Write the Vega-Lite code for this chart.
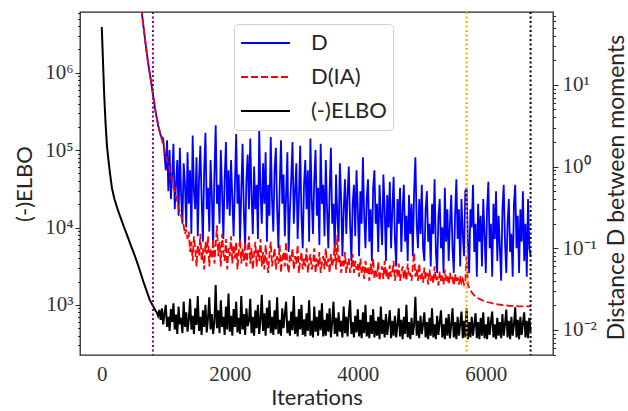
{
  "$schema": "https://vega.github.io/schema/vega-lite/v6.json",
  "width": 473,
  "height": 343,
  "autosize": "none",
  "padding": {"left": 80, "top": 12, "right": 75, "bottom": 56},
  "background": "white",
  "config": {
    "view": {"stroke": "#262626", "strokeWidth": 1.3},
    "axis": {"grid": false, "domain": false, "labelColor": "#333333", "titleColor": "#262626", "tickColor": "#262626", "titleFontWeight": "normal"}
  },
  "data": {"values": [
    {"it":0,"ELBO":3900000},{"it":10,"ELBO":2300000},{"it":20,"ELBO":1350000},{"it":30,"ELBO":790000},{"it":40,"ELBO":475000},
    {"it":60,"ELBO":220000},{"it":80,"ELBO":117000},{"it":100,"ELBO":80000},{"it":130,"ELBO":49000},{"it":160,"ELBO":32000},
    {"it":200,"ELBO":23000},{"it":250,"ELBO":17000},{"it":300,"ELBO":13000},{"it":350,"ELBO":10000},{"it":400,"ELBO":7800},
    {"it":450,"ELBO":6000},{"it":500,"ELBO":4700},{"it":550,"ELBO":3600},{"it":560,"D":200,"DIA":200},
    {"it":600,"ELBO":2700,"D":110,"DIA":110},{"it":640,"D":62,"DIA":62},{"it":650,"ELBO":2000},{"it":680,"D":34,"DIA":34},
    {"it":700,"ELBO":1520},{"it":720,"D":19.5,"DIA":19.5},{"it":750,"ELBO":1160},{"it":760,"D":12.3,"DIA":12.3},
    {"it":800,"ELBO":970,"D":7.6,"DIA":7.6},{"it":840,"ELBO":840,"D":4.7,"DIA":4.8},{"it":860,"ELBO":800},
    {"it":880,"ELBO":720,"D":3.2,"DIA":3.3},{"it":900,"ELBO":860},{"it":920,"ELBO":640,"D":2.4,"DIA":2.4},{"it":940,"ELBO":900},
    {"it":960,"ELBO":560,"D":2.2,"DIA":1.85},{"it":980,"ELBO":780,"D":1.4,"DIA":1.6},{"it":1000,"ELBO":1000,"D":0.9,"DIA":1.4},
    {"it":1020,"ELBO":520,"D":2.1,"DIA":1.2},{"it":1040,"ELBO":700,"D":0.5,"DIA":1.09},{"it":1060,"ELBO":460,"D":1.6,"DIA":0.92},
    {"it":1080,"ELBO":880,"D":0.4,"DIA":0.79},{"it":1100,"ELBO":600,"D":0.8,"DIA":0.67},{"it":1120,"ELBO":1050,"D":1.9,"DIA":0.57},
    {"it":1140,"ELBO":480,"D":0.3,"DIA":0.5},{"it":1160,"ELBO":750,"D":0.6,"DIA":0.43},{"it":1180,"ELBO":420,"D":1.2,"DIA":0.37},
    {"it":1200,"ELBO":950,"D":0.25,"DIA":0.32},{"it":1220,"ELBO":560,"D":1.7,"DIA":0.28},{"it":1240,"ELBO":680,"D":0.45,"DIA":0.25},
    {"it":1260,"ELBO":430,"D":0.2,"DIA":0.22},{"it":1280,"ELBO":1100,"D":1.1,"DIA":0.19},{"it":1300,"ELBO":520,"D":0.6,"DIA":0.15},
    {"it":1320,"ELBO":800,"D":0.18,"DIA":0.17},{"it":1340,"ELBO":450,"D":1.5,"DIA":0.13},{"it":1360,"ELBO":650,"D":0.35,"DIA":0.16},
    {"it":1380,"ELBO":1200,"D":0.9,"DIA":0.09},{"it":1400,"ELBO":480,"D":0.15,"DIA":0.12},{"it":1420,"ELBO":720,"D":2.4,"DIA":0.07},
    {"it":1440,"ELBO":420,"D":0.5,"DIA":0.14},{"it":1460,"ELBO":900,"D":0.3,"DIA":0.1},{"it":1480,"ELBO":550,"D":1.3,"DIA":0.06},
    {"it":1500,"ELBO":1300,"D":0.14,"DIA":0.11},{"it":1520,"ELBO":460,"D":0.7,"DIA":0.08},{"it":1540,"ELBO":700,"D":1.8,"DIA":0.15},
    {"it":1560,"ELBO":410,"D":0.4,"DIA":0.07},{"it":1580,"ELBO":850,"D":0.12,"DIA":0.1},{"it":1600,"ELBO":520,"D":0.9,"DIA":0.055},
    {"it":1620,"ELBO":1000,"D":2.6,"DIA":0.12},{"it":1640,"ELBO":440,"D":0.3,"DIA":0.085},{"it":1660,"ELBO":680,"D":0.55,"DIA":0.14},
    {"it":1680,"ELBO":1250,"D":0.16,"DIA":0.06},{"it":1700,"ELBO":480,"D":1.2,"DIA":0.1},{"it":1720,"ELBO":760,"D":0.45,"DIA":0.075},
    {"it":1740,"ELBO":420,"D":0.1,"DIA":0.13},{"it":1760,"ELBO":600,"D":0.8,"DIA":0.065},{"it":1780,"ELBO":1800,"D":3.2,"DIA":0.11},
    {"it":1800,"ELBO":500,"D":0.35,"DIA":0.19},{"it":1820,"ELBO":850,"D":0.6,"DIA":0.08},{"it":1840,"ELBO":430,"D":0.2,"DIA":0.12},
    {"it":1860,"ELBO":1150,"D":1.6,"DIA":0.06},{"it":1880,"ELBO":520,"D":0.5,"DIA":0.15},{"it":1900,"ELBO":700,"D":0.13,"DIA":0.09},
    {"it":1920,"ELBO":410,"D":0.7,"DIA":0.07},{"it":1940,"ELBO":950,"D":2.0,"DIA":0.13},{"it":1960,"ELBO":480,"D":0.3,"DIA":0.055},
    {"it":1980,"ELBO":1400,"D":0.9,"DIA":0.1},{"it":2000,"ELBO":450,"D":0.25,"DIA":0.08},{"it":2020,"ELBO":720,"D":1.2,"DIA":0.14},
    {"it":2040,"ELBO":400,"D":0.4,"DIA":0.065},{"it":2060,"ELBO":880,"D":0.14,"DIA":0.11},{"it":2080,"ELBO":520,"D":0.6,"DIA":0.075},
    {"it":2100,"ELBO":1100,"D":2.5,"DIA":0.12},{"it":2120,"ELBO":440,"D":0.35,"DIA":0.055},{"it":2140,"ELBO":680,"D":0.8,"DIA":0.09},
    {"it":2160,"ELBO":420,"D":0.12,"DIA":0.13},{"it":2180,"ELBO":1300,"D":0.5,"DIA":0.065},{"it":2200,"ELBO":480,"D":1.9,"DIA":0.1},
    {"it":2220,"ELBO":760,"D":0.28,"DIA":0.07},{"it":2240,"ELBO":410,"D":0.1,"DIA":0.12},{"it":2260,"ELBO":900,"D":0.7,"DIA":0.06},
    {"it":2280,"ELBO":530,"D":1.4,"DIA":0.09},{"it":2300,"ELBO":620,"D":0.3,"DIA":0.14},{"it":2320,"ELBO":1200,"D":2.2,"DIA":0.065},
    {"it":2340,"ELBO":430,"D":0.45,"DIA":0.1},{"it":2360,"ELBO":700,"D":0.15,"DIA":0.055},{"it":2380,"ELBO":400,"D":1.0,"DIA":0.085},
    {"it":2400,"ELBO":850,"D":0.3,"DIA":0.12},{"it":2420,"ELBO":500,"D":0.6,"DIA":0.06},{"it":2440,"ELBO":1000,"D":0.13,"DIA":0.1},
    {"it":2460,"ELBO":420,"D":2.8,"DIA":0.07},{"it":2480,"ELBO":640,"D":0.5,"DIA":0.13},{"it":2500,"ELBO":1350,"D":0.2,"DIA":0.06},
    {"it":2520,"ELBO":460,"D":1.1,"DIA":0.09},{"it":2540,"ELBO":780,"D":0.35,"DIA":0.055},{"it":2560,"ELBO":400,"D":1.5,"DIA":0.11},
    {"it":2580,"ELBO":920,"D":0.12,"DIA":0.07},{"it":2600,"ELBO":500,"D":0.6,"DIA":0.05},{"it":2620,"ELBO":1150,"D":0.25,"DIA":0.085},
    {"it":2640,"ELBO":430,"D":2.3,"DIA":0.12},{"it":2660,"ELBO":700,"D":0.4,"DIA":0.06},{"it":2680,"ELBO":410,"D":0.16,"DIA":0.075},
    {"it":2700,"ELBO":850,"D":0.9,"DIA":0.1},{"it":2720,"ELBO":480,"D":1.7,"DIA":0.055},{"it":2740,"ELBO":1250,"D":0.3,"DIA":0.08},
    {"it":2760,"ELBO":420,"D":0.1,"DIA":0.065},{"it":2780,"ELBO":640,"D":0.55,"DIA":0.11},{"it":2800,"ELBO":400,"D":2.1,"DIA":0.05},
    {"it":2820,"ELBO":900,"D":0.35,"DIA":0.075},{"it":2840,"ELBO":500,"D":0.8,"DIA":0.09},{"it":2860,"ELBO":760,"D":0.14,"DIA":0.06},
    {"it":2880,"ELBO":1100,"D":0.45,"DIA":0.12},{"it":2900,"ELBO":430,"D":1.5,"DIA":0.065},{"it":2920,"ELBO":620,"D":0.09,"DIA":0.05},
    {"it":2940,"ELBO":400,"D":0.3,"DIA":0.085},{"it":2960,"ELBO":820,"D":0.7,"DIA":0.07},{"it":2980,"ELBO":470,"D":2.0,"DIA":0.1},
    {"it":3000,"ELBO":1300,"D":0.2,"DIA":0.055},{"it":3020,"ELBO":420,"D":0.5,"DIA":0.08},{"it":3040,"ELBO":700,"D":1.1,"DIA":0.065},
    {"it":3060,"ELBO":390,"D":0.13,"DIA":0.11},{"it":3080,"ELBO":880,"D":0.4,"DIA":0.05},{"it":3100,"ELBO":480,"D":1.8,"DIA":0.07},
    {"it":3120,"ELBO":1000,"D":0.25,"DIA":0.09},{"it":3140,"ELBO":410,"D":0.1,"DIA":0.055},{"it":3160,"ELBO":650,"D":0.6,"DIA":0.075},
    {"it":3180,"ELBO":390,"D":1.2,"DIA":0.06},{"it":3200,"ELBO":780,"D":0.3,"DIA":0.1},{"it":3220,"ELBO":460,"D":0.9,"DIA":0.05},
    {"it":3240,"ELBO":1150,"D":0.12,"DIA":0.07},{"it":3260,"ELBO":400,"D":2.2,"DIA":0.085},{"it":3280,"ELBO":620,"D":0.4,"DIA":0.055},
    {"it":3300,"ELBO":380,"D":0.15,"DIA":0.065},{"it":3320,"ELBO":950,"D":0.7,"DIA":0.1},{"it":3340,"ELBO":450,"D":1.6,"DIA":0.05},
    {"it":3360,"ELBO":700,"D":0.25,"DIA":0.075},{"it":3380,"ELBO":400,"D":0.55,"DIA":0.06},{"it":3400,"ELBO":850,"D":0.11,"DIA":0.09},
    {"it":3420,"ELBO":470,"D":1.9,"DIA":0.05},{"it":3440,"ELBO":1050,"D":0.35,"DIA":0.065},{"it":3460,"ELBO":390,"D":0.6,"DIA":0.08},
    {"it":3480,"ELBO":640,"D":0.14,"DIA":0.055},{"it":3500,"ELBO":400,"D":1.2,"DIA":0.1},{"it":3520,"ELBO":780,"D":0.3,"DIA":0.06},
    {"it":3540,"ELBO":450,"D":0.1,"DIA":0.075},{"it":3560,"ELBO":900,"D":0.5,"DIA":0.05},{"it":3580,"ELBO":380,"D":1.7,"DIA":0.085},
    {"it":3600,"ELBO":600,"D":0.2,"DIA":0.06},{"it":3620,"ELBO":1100,"D":0.35,"DIA":0.07},{"it":3640,"ELBO":420,"D":0.09,"DIA":0.11},
    {"it":3660,"ELBO":680,"D":0.8,"DIA":0.055},{"it":3680,"ELBO":390,"D":0.25,"DIA":0.146},{"it":3700,"ELBO":800,"D":0.12,"DIA":0.065},
    {"it":3720,"ELBO":450,"D":1.1,"DIA":0.08},{"it":3740,"ELBO":620,"D":0.4,"DIA":0.05},{"it":3760,"ELBO":380,"D":0.08,"DIA":0.07},
    {"it":3780,"ELBO":950,"D":0.3,"DIA":0.06},{"it":3800,"ELBO":430,"D":0.7,"DIA":0.09},{"it":3820,"ELBO":700,"D":0.15,"DIA":0.05},
    {"it":3840,"ELBO":390,"D":0.45,"DIA":0.065},{"it":3860,"ELBO":760,"D":1.0,"DIA":0.075},{"it":3880,"ELBO":1150,"D":0.2,"DIA":0.05},
    {"it":3900,"ELBO":420,"D":0.07,"DIA":0.06},{"it":3920,"ELBO":600,"D":0.35,"DIA":0.085},{"it":3940,"ELBO":380,"D":0.6,"DIA":0.05},
    {"it":3960,"ELBO":720,"D":0.14,"DIA":0.07},{"it":3980,"ELBO":440,"D":0.9,"DIA":0.055},{"it":4000,"ELBO":880,"D":0.3,"DIA":0.065},
    {"it":4020,"ELBO":390,"D":0.08,"DIA":0.045},{"it":4040,"ELBO":640,"D":0.5,"DIA":0.075},{"it":4060,"ELBO":370,"D":0.2,"DIA":0.05},
    {"it":4080,"ELBO":800,"D":1.3,"DIA":0.06},{"it":4100,"ELBO":430,"D":0.25,"DIA":0.042},{"it":4120,"ELBO":1000,"D":0.1,"DIA":0.07},
    {"it":4140,"ELBO":390,"D":0.4,"DIA":0.05},{"it":4160,"ELBO":600,"D":0.7,"DIA":0.058},{"it":4180,"ELBO":370,"D":0.12,"DIA":0.04},
    {"it":4200,"ELBO":740,"D":0.3,"DIA":0.065},{"it":4220,"ELBO":420,"D":0.07,"DIA":0.048},{"it":4240,"ELBO":880,"D":0.55,"DIA":0.075},
    {"it":4260,"ELBO":380,"D":0.9,"DIA":0.042},{"it":4280,"ELBO":620,"D":0.2,"DIA":0.055},{"it":4300,"ELBO":400,"D":0.35,"DIA":0.045},
    {"it":4320,"ELBO":700,"D":0.09,"DIA":0.068},{"it":4340,"ELBO":360,"D":0.6,"DIA":0.04},{"it":4360,"ELBO":950,"D":0.25,"DIA":0.052},
    {"it":4380,"ELBO":420,"D":0.11,"DIA":0.06},{"it":4400,"ELBO":640,"D":0.8,"DIA":0.042},{"it":4420,"ELBO":380,"D":0.3,"DIA":0.07},
    {"it":4440,"ELBO":760,"D":0.07,"DIA":0.045},{"it":4460,"ELBO":410,"D":0.45,"DIA":0.055},{"it":4480,"ELBO":580,"D":0.18,"DIA":0.04},
    {"it":4500,"ELBO":850,"D":0.65,"DIA":0.062},{"it":4520,"ELBO":370,"D":0.1,"DIA":0.045},{"it":4540,"ELBO":620,"D":0.3,"DIA":0.05},
    {"it":4560,"ELBO":400,"D":0.75,"DIA":0.07},{"it":4580,"ELBO":720,"D":0.13,"DIA":0.04},{"it":4600,"ELBO":380,"D":0.06,"DIA":0.055},
    {"it":4620,"ELBO":560,"D":0.4,"DIA":0.045},{"it":4640,"ELBO":900,"D":0.2,"DIA":0.065},{"it":4660,"ELBO":390,"D":0.55,"DIA":0.04},
    {"it":4680,"ELBO":640,"D":0.09,"DIA":0.05},{"it":4700,"ELBO":360,"D":0.3,"DIA":0.06},{"it":4720,"ELBO":700,"D":0.6,"DIA":0.042},
    {"it":4740,"ELBO":420,"D":0.12,"DIA":0.055},{"it":4760,"ELBO":1000,"D":0.25,"DIA":0.04},{"it":4780,"ELBO":380,"D":0.07,"DIA":0.065},
    {"it":4800,"ELBO":600,"D":0.45,"DIA":0.045},{"it":4820,"ELBO":360,"D":0.15,"DIA":0.05},{"it":4840,"ELBO":680,"D":0.35,"DIA":0.04},
    {"it":4860,"ELBO":410,"D":0.08,"DIA":0.06},{"it":4880,"ELBO":560,"D":0.5,"DIA":0.088},{"it":4900,"ELBO":1270,"D":1.3,"DIA":0.045},
    {"it":4920,"ELBO":400,"D":0.2,"DIA":0.055},{"it":4940,"ELBO":620,"D":0.1,"DIA":0.04},{"it":4960,"ELBO":370,"D":0.4,"DIA":0.065},
    {"it":4980,"ELBO":720,"D":0.15,"DIA":0.042},{"it":5000,"ELBO":420,"D":0.6,"DIA":0.05},{"it":5020,"ELBO":560,"D":0.1,"DIA":0.038},
    {"it":5040,"ELBO":800,"D":0.07,"DIA":0.058},{"it":5060,"ELBO":380,"D":0.3,"DIA":0.042},{"it":5080,"ELBO":600,"D":0.5,"DIA":0.05},
    {"it":5100,"ELBO":360,"D":0.12,"DIA":0.036},{"it":5120,"ELBO":680,"D":0.2,"DIA":0.055},{"it":5140,"ELBO":400,"D":0.06,"DIA":0.04},
    {"it":5160,"ELBO":900,"D":0.35,"DIA":0.048},{"it":5180,"ELBO":380,"D":0.15,"DIA":0.037},{"it":5200,"ELBO":560,"D":0.7,"DIA":0.06},
    {"it":5220,"ELBO":360,"D":0.09,"DIA":0.04},{"it":5240,"ELBO":720,"D":0.05,"DIA":0.045},{"it":5260,"ELBO":410,"D":0.25,"DIA":0.035},
    {"it":5280,"ELBO":600,"D":0.4,"DIA":0.052},{"it":5300,"ELBO":850,"D":0.1,"DIA":0.04},{"it":5320,"ELBO":380,"D":0.18,"DIA":0.046},
    {"it":5340,"ELBO":560,"D":0.05,"DIA":0.036},{"it":5360,"ELBO":360,"D":0.55,"DIA":0.055},{"it":5380,"ELBO":680,"D":0.12,"DIA":0.04},
    {"it":5400,"ELBO":400,"D":0.3,"DIA":0.045},{"it":5420,"ELBO":760,"D":0.07,"DIA":0.036},{"it":5440,"ELBO":370,"D":0.2,"DIA":0.05},
    {"it":5460,"ELBO":560,"D":0.45,"DIA":0.04},{"it":5480,"ELBO":900,"D":0.1,"DIA":0.043},{"it":5500,"ELBO":380,"D":0.05,"DIA":0.035},
    {"it":5520,"ELBO":600,"D":0.25,"DIA":0.048},{"it":5540,"ELBO":360,"D":0.7,"DIA":0.038},{"it":5560,"ELBO":700,"D":0.13,"DIA":0.044},
    {"it":5580,"ELBO":400,"D":0.3,"DIA":0.036},{"it":5600,"ELBO":560,"D":0.06,"DIA":0.046},{"it":5620,"ELBO":820,"D":0.4,"DIA":0.038},
    {"it":5640,"ELBO":370,"D":0.15,"DIA":0.042},{"it":5660,"ELBO":620,"D":0.08,"DIA":0.036},{"it":5680,"ELBO":380,"D":0.5,"DIA":0.04},
    {"it":5700,"ELBO":900,"D":0.55,"DIA":0.08},{"it":5720,"ELBO":360,"D":0.12,"DIA":0.036},{"it":5740,"ELBO":600,"D":0.05,"DIA":0.033},
    {"it":5760,"ELBO":380,"D":0.3,"DIA":0.031},{"it":5780,"ELBO":700,"D":0.18,"DIA":0.029},{"it":5800,"ELBO":400,"D":0.6,"DIA":0.0275},
    {"it":5820,"ELBO":560,"D":0.09,"DIA":0.0265},{"it":5840,"ELBO":780,"D":0.2,"DIA":0.0255},{"it":5860,"ELBO":370,"D":0.045,"DIA":0.025},
    {"it":5880,"ELBO":600,"D":0.35,"DIA":0.0245},{"it":5900,"ELBO":360,"D":0.12,"DIA":0.024},{"it":5920,"ELBO":680,"D":0.25},
    {"it":5940,"ELBO":400,"D":0.06,"DIA":0.0232},{"it":5960,"ELBO":800,"D":0.4},{"it":5980,"ELBO":370,"D":0.15,"DIA":0.0226},
    {"it":6000,"ELBO":560,"D":0.05},{"it":6020,"ELBO":360,"D":0.3,"DIA":0.022},{"it":6040,"ELBO":700,"D":0.65},
    {"it":6060,"ELBO":410,"D":0.1},{"it":6080,"ELBO":600,"D":0.2,"DIA":0.0214},{"it":6100,"ELBO":820,"D":0.045},
    {"it":6120,"ELBO":380,"D":0.35},{"it":6140,"ELBO":560,"D":0.13,"DIA":0.0209},{"it":6160,"ELBO":360,"D":0.5},
    {"it":6180,"ELBO":680,"D":0.07},{"it":6200,"ELBO":400,"D":0.25,"DIA":0.0205},{"it":6220,"ELBO":600,"D":0.1},
    {"it":6240,"ELBO":370,"D":0.04},{"it":6260,"ELBO":760,"D":0.3},{"it":6280,"ELBO":400,"D":0.6,"DIA":0.0201},
    {"it":6300,"ELBO":560,"D":0.12},{"it":6320,"ELBO":870,"D":0.05},{"it":6340,"ELBO":380,"D":0.2},
    {"it":6360,"ELBO":620,"D":0.4,"DIA":0.0198},{"it":6380,"ELBO":360,"D":0.09},{"it":6400,"ELBO":700,"D":0.15},
    {"it":6420,"ELBO":400,"D":0.045},{"it":6440,"ELBO":560,"D":0.35,"DIA":0.0196},{"it":6460,"ELBO":930,"D":0.6},
    {"it":6480,"ELBO":380,"D":0.1},{"it":6500,"ELBO":640,"D":0.25},{"it":6520,"ELBO":360,"D":0.05,"DIA":0.0195},
    {"it":6540,"ELBO":700,"D":0.3},{"it":6560,"ELBO":410,"D":0.12},{"it":6580,"ELBO":580,"D":0.5},
    {"it":6600,"ELBO":800,"D":0.07,"DIA":0.0194},{"it":6620,"ELBO":380,"D":0.2},{"it":6640,"ELBO":620,"D":0.045},
    {"it":6660,"ELBO":370,"D":0.4},{"it":6680,"ELBO":680,"D":0.1},{"it":6700,"ELBO":450,"D":0.08,"DIA":0.0194}
  ]},
  "layer": [
    {
      "transform": [{"fold": ["D", "DIA"], "as": ["series", "val"]}, {"filter": "isValid(datum.val)"}],
      "mark": {"type": "line", "clip": true, "strokeWidth": 1.8},
      "encoding": {
        "x": {"field": "it", "type": "quantitative", "scale": {"domain": [-340, 7050], "nice": false, "zero": false},
              "axis": {"title": "Iterations", "values": [0, 2000, 4000, 6000], "format": "d", "ticks": false, "labelFont": "Liberation Serif", "labelFontSize": 21, "labelPadding": 8, "titleFont": "Lato", "titleFontSize": 22, "titlePadding": 3}},
        "y": {"field": "val", "type": "quantitative", "scale": {"type": "log", "domain": [0.00494, 78], "nice": false, "zero": false},
              "axis": {"orient": "right", "title": "Distance D between moments", "titleAngle": 270,
                       "titleX": 63, "titleY": 175, "titleAlign": "center", "titleBaseline": "middle",
                       "values": [0.005,0.006,0.007,0.008,0.009,0.01,0.02,0.03,0.04,0.05,0.06,0.07,0.08,0.09,0.1,0.2,0.3,0.4,0.5,0.6,0.7,0.8,0.9,1,2,3,4,5,6,7,8,9,10,20,30,40,50,60,70],
                       "labelExpr": "abs(log(datum.value)/LN10 - round(log(datum.value)/LN10)) < 0.001 ? '10' + ['⁻²','⁻¹','⁰','¹'][round(log(datum.value)/LN10)+2] : ''",
                       "tickSize": {"condition": {"test": "abs(log(datum.value)/LN10 - round(log(datum.value)/LN10)) < 0.001", "value": 5}, "value": 2.5},
                       "tickWidth": 1,
                       "labelFont": "Liberation Serif", "labelFontSize": 21, "labelPadding": 4, "labelBaseline": "middle",
                       "titleFont": "Lato", "titleFontSize": 23}},
        "color": {"field": "series", "type": "nominal",
                  "scale": {"domain": ["D", "DIA", "ELBO"], "range": ["#0000ff", "#ff0000", "#000000"]},
                  "legend": {"orient": "none", "legendX": 154, "legendY": 12, "title": null,
                             "labelExpr": "datum.label == 'DIA' ? 'D(IA)' : datum.label == 'ELBO' ? '(-)ELBO' : datum.label",
                             "symbolType": "stroke", "symbolSize": 2400, "symbolStrokeWidth": 2, "clipHeight": 26,
                             "labelFont": "Lato", "labelFontSize": 22, "labelColor": "#262626", "labelOffset": 20,
                             "fillColor": "white", "strokeColor": "#d0d0d0", "cornerRadius": 4, "padding": 6, "rowPadding": 8}},
        "strokeDash": {"field": "series", "type": "nominal",
                       "scale": {"domain": ["D", "DIA", "ELBO"], "range": [[1, 0], [7, 3], [1, 0]]}}
      }
    },
    {
      "transform": [{"filter": "isValid(datum.ELBO)"}],
      "mark": {"type": "line", "clip": true, "strokeWidth": 2},
      "encoding": {
        "x": {"field": "it", "type": "quantitative"},
        "y": {"field": "ELBO", "type": "quantitative", "scale": {"type": "log", "domain": [225, 6100000], "nice": false, "zero": false},
              "axis": {"orient": "left", "title": "(-)ELBO",
                       "values": [300,400,500,600,700,800,900,1000,2000,3000,4000,5000,6000,7000,8000,9000,10000,20000,30000,40000,50000,60000,70000,80000,90000,100000,200000,300000,400000,500000,600000,700000,800000,900000,1000000,2000000,3000000,4000000,5000000,6000000],
                       "labelExpr": "abs(log(datum.value)/LN10 - round(log(datum.value)/LN10)) < 0.001 ? '10' + ['','','','³','⁴','⁵','⁶'][round(log(datum.value)/LN10)] : ''",
                       "tickSize": {"condition": {"test": "abs(log(datum.value)/LN10 - round(log(datum.value)/LN10)) < 0.001", "value": 5}, "value": 2.5},
                       "tickWidth": 1,
                       "labelFont": "Liberation Serif", "labelFontSize": 21, "labelPadding": 2, "labelBaseline": "middle",
                       "titleFont": "Lato", "titleFontSize": 22, "titlePadding": 8}},
        "color": {"datum": "ELBO", "type": "nominal"},
        "strokeDash": {"datum": "ELBO", "type": "nominal"}
      }
    },
    {
      "data": {"values": [{"it": 800}]},
      "mark": {"type": "rule", "color": "#800080", "strokeWidth": 2, "strokeDash": [2, 2.5]},
      "encoding": {"x": {"field": "it", "type": "quantitative"}}
    },
    {
      "data": {"values": [{"it": 5700}]},
      "mark": {"type": "rule", "color": "#ffa500", "strokeWidth": 2, "strokeDash": [2, 2.5]},
      "encoding": {"x": {"field": "it", "type": "quantitative"}}
    },
    {
      "data": {"values": [{"it": 6700}]},
      "mark": {"type": "rule", "color": "#000000", "strokeWidth": 2, "strokeDash": [2, 2.5]},
      "encoding": {"x": {"field": "it", "type": "quantitative"}}
    }
  ],
  "resolve": {"scale": {"y": "independent"}}
}
